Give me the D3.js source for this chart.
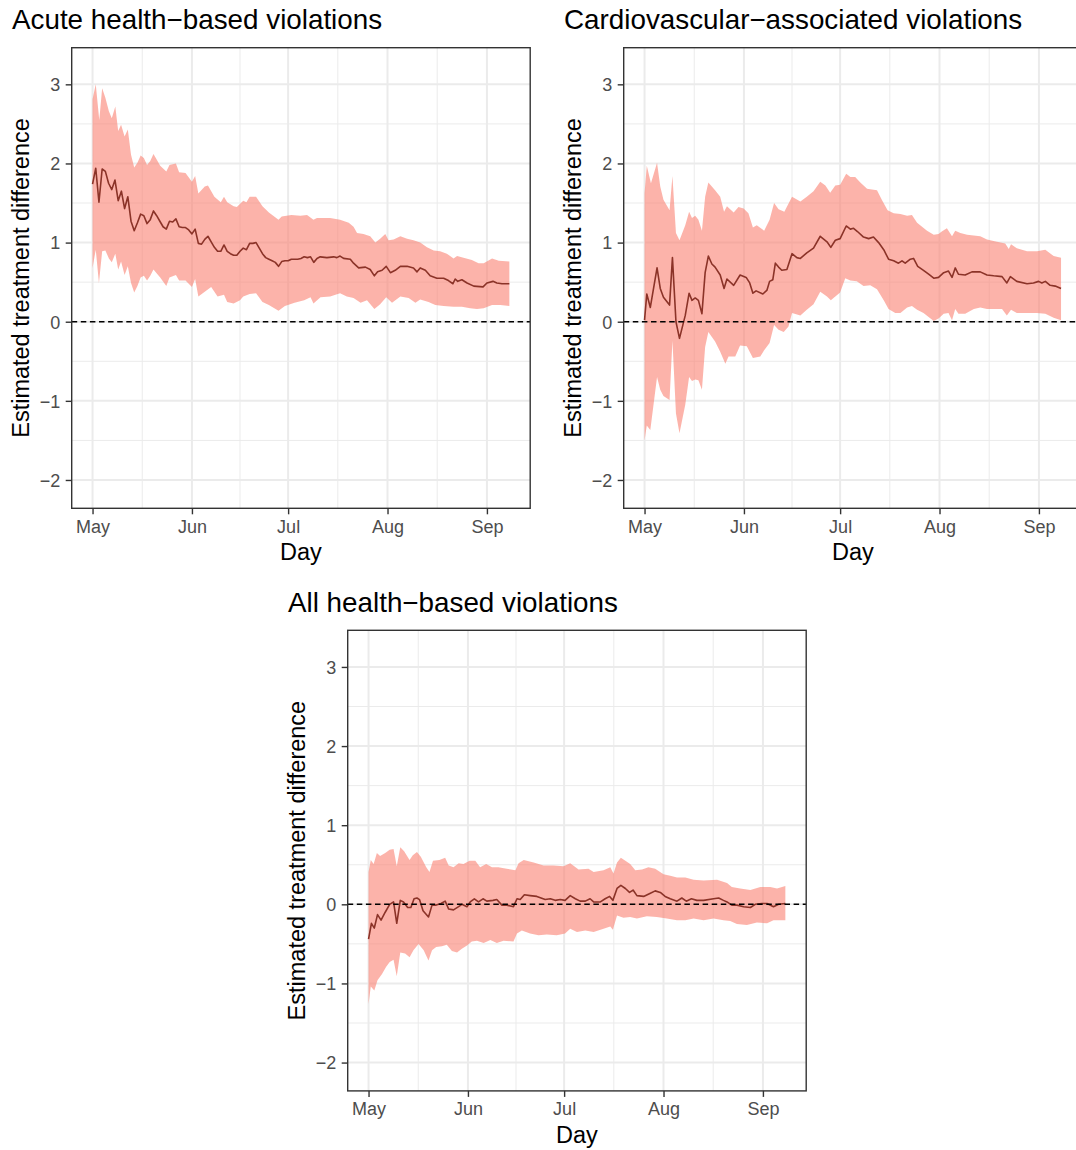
<!DOCTYPE html>
<html>
<head>
<meta charset="utf-8">
<script src="https://cdn.jsdelivr.net/npm/d3@7"></script>
<style>
  html, body { margin: 0; padding: 0; background: #fff; }
  svg { display: block; font-family: "Liberation Sans", Arial, Helvetica, sans-serif; }
</style>
</head>
<body>
<svg id="chart" width="1076" height="1150"></svg>
<script>
// ---------- DATA (day offsets from 1 May, value) ----------
const titles = ["Acute health\u2212based violations", "Cardiovascular\u2212associated violations", "All health\u2212based violations"];
const monthTicks = ["May", "Jun", "Jul", "Aug", "Sep"];
const yTicks = [-2, -1, 0, 1, 2, 3];

const acuteEst = [[0,1.74],[1,1.94],[2,1.51],[3,1.93],[4,1.90],[5,1.75],[6,1.67],[7,1.79],[8,1.53],[9,1.65],[10,1.43],[11,1.58],[12,1.27],[13,1.15],[14,1.25],[15,1.36],[16,1.34],[17,1.24],[18,1.29],[19,1.40],[20,1.34],[21,1.27],[22,1.20],[23,1.17],[24,1.27],[25,1.26],[26,1.30],[27,1.20],[28,1.19],[29,1.19],[30,1.16],[31,1.11],[32,1.17],[33,0.99],[34,0.98],[35,1.04],[36,1.08],[37,1.01],[38,0.94],[39,0.89],[40,0.89],[41,0.97],[42,0.89],[43,0.86],[44,0.84],[45,0.84],[46,0.89],[47,0.93],[48,0.91],[49,0.99],[50,0.99],[51,1.00],[52,0.93],[53,0.86],[54,0.81],[55,0.79],[56,0.77],[57,0.75],[58,0.70],[59,0.76],[60,0.77],[61,0.77],[62,0.79],[63,0.79],[64,0.79],[65,0.80],[66,0.82],[67,0.81],[68,0.82],[69,0.75],[70,0.80],[71,0.82],[73.1,0.81],[75.2,0.82],[76.2,0.81],[77.2,0.83],[78.3,0.80],[80.4,0.79],[81.4,0.74],[83.0,0.68],[85.1,0.69],[86.6,0.66],[87.9,0.58],[88.9,0.63],[90.3,0.65],[91.6,0.70],[92.9,0.62],[94.4,0.65],[96.0,0.70],[98.1,0.70],[100.1,0.68],[101.2,0.63],[102.2,0.68],[103.8,0.65],[105.3,0.58],[107.4,0.55],[109.5,0.55],[111.0,0.52],[112.4,0.48],[113.1,0.54],[113.9,0.51],[115.2,0.53],[116.8,0.49],[118.9,0.45],[121.8,0.44],[123.0,0.49],[124.9,0.51],[126.1,0.49],[127.7,0.48],[130,0.48]];
const acuteUpper = [[0,2.81],[1,3.00],[2.1,2.55],[3,2.95],[4,2.83],[5.1,2.66],[6,2.57],[7.1,2.72],[8,2.41],[8.9,2.49],[10,2.34],[11,2.43],[12,2.11],[13,1.95],[14,2.01],[15,2.10],[16,2.07],[17,1.98],[18,2.03],[19,2.12],[20,2.05],[21.1,1.97],[23,1.90],[24,1.98],[26,2.00],[27,1.89],[29,1.88],[31,1.77],[32,1.84],[33,1.62],[35,1.71],[36,1.72],[38,1.58],[40,1.51],[41,1.58],[42,1.51],[44,1.46],[45,1.45],[47,1.53],[48,1.51],[49,1.58],[51,1.58],[53,1.46],[55,1.38],[58,1.29],[59,1.33],[62,1.35],[64.8,1.34],[66.9,1.35],[68.9,1.29],[70,1.31],[74.1,1.31],[77.2,1.29],[79.9,1.25],[81.4,1.20],[82.5,1.12],[84.5,1.11],[86.6,1.08],[88.2,1.00],[89.7,1.05],[91.3,1.11],[92.3,1.03],[93.9,1.04],[96,1.08],[98.1,1.05],[100.1,1.03],[102.2,1.00],[104.3,0.94],[106.4,0.90],[108.4,0.89],[110.5,0.86],[112.6,0.80],[113.7,0.83],[115.7,0.81],[118.3,0.78],[120.4,0.74],[122,0.74],[124.6,0.80],[126.7,0.77],[130,0.76]];
const acuteLower = [[0,0.68],[1,0.91],[2,0.49],[3,0.89],[4,0.90],[5.1,0.80],[6,0.75],[7.1,0.86],[8,0.66],[8.9,0.76],[10,0.59],[11,0.70],[12,0.49],[13,0.37],[14,0.45],[15,0.56],[16,0.58],[17,0.52],[18,0.58],[19,0.66],[21.1,0.56],[23,0.45],[24,0.56],[26,0.59],[27,0.52],[29,0.52],[31,0.44],[32,0.54],[33,0.32],[35,0.38],[37,0.44],[39,0.32],[41,0.34],[42,0.25],[44,0.23],[46,0.27],[47,0.32],[49,0.35],[51,0.36],[53,0.25],[55,0.21],[58,0.14],[60,0.20],[63,0.24],[66,0.27],[68,0.31],[68.9,0.23],[71.1,0.31],[74.1,0.32],[77.2,0.36],[79.3,0.32],[81.4,0.30],[83.6,0.24],[85.6,0.27],[87.9,0.16],[89.7,0.22],[91.6,0.31],[93.4,0.24],[96,0.32],[98.6,0.30],[100.7,0.24],[102.2,0.28],[104.8,0.25],[106.9,0.21],[109.5,0.20],[112.6,0.19],[115.2,0.19],[117.8,0.17],[119.9,0.16],[122,0.17],[124.6,0.21],[127.2,0.21],[130,0.20]];

const cardioEst = [[0,0.02],[0.7,0.35],[1.8,0.18],[3.9,0.68],[4.9,0.42],[5.9,0.31],[7.8,0.21],[8.7,0.81],[9.8,0.00],[10.9,-0.21],[12.7,0.08],[13.9,0.36],[14.8,0.27],[15.8,0.30],[16.8,0.27],[17.9,0.10],[18.9,0.62],[19.9,0.83],[21,0.73],[22,0.69],[23.6,0.59],[24.8,0.42],[25.7,0.54],[27.8,0.46],[29.8,0.59],[31.7,0.56],[32.8,0.49],[33.8,0.36],[34.8,0.39],[36.9,0.35],[38.2,0.40],[39,0.51],[40,0.53],[40.8,0.74],[41.8,0.69],[42.8,0.65],[44.4,0.66],[46,0.86],[47.5,0.81],[48.6,0.80],[50.6,0.87],[52.7,0.93],[54.8,1.08],[56.9,1.01],[58.1,0.94],[59.5,1.03],[61,1.05],[62.9,1.21],[64.2,1.17],[65.2,1.18],[66.4,1.14],[68.3,1.07],[69.9,1.05],[71.4,1.07],[73,1.00],[74.6,0.91],[76.1,0.79],[77.7,0.77],[79.2,0.74],[80.3,0.77],[81.3,0.74],[82.9,0.79],[83.9,0.80],[85.2,0.70],[87,0.65],[88.6,0.60],[90.2,0.55],[91.7,0.56],[93.3,0.62],[94.8,0.64],[95.9,0.56],[96.9,0.68],[97.9,0.60],[100,0.59],[102.1,0.63],[104.7,0.63],[106.8,0.59],[108.9,0.58],[111.5,0.57],[113,0.49],[114.1,0.57],[116.1,0.51],[119.3,0.48],[121.3,0.49],[122.9,0.51],[123.9,0.49],[125,0.51],[126.5,0.46],[128.1,0.45],[129.9,0.42]];
const cardioUpper = [[0,1.62],[0.7,1.97],[2,1.75],[3.9,2.01],[4.9,1.71],[5.9,1.54],[7.8,1.41],[8.7,1.84],[9.8,1.12],[10.9,1.03],[12.7,1.22],[13.9,1.39],[14.8,1.31],[15.8,1.34],[16.8,1.29],[17.9,1.15],[18.9,1.58],[19.9,1.76],[22,1.66],[23.6,1.58],[24.8,1.39],[25.7,1.46],[27.8,1.38],[29.3,1.45],[30.9,1.43],[32.4,1.37],[33.8,1.19],[35,1.22],[37.3,1.15],[39,1.29],[40.4,1.50],[41.8,1.42],[43.6,1.39],[46,1.58],[48.6,1.52],[50.6,1.58],[52.7,1.65],[54.8,1.77],[56.4,1.72],[57.9,1.63],[59.5,1.72],[61,1.73],[62.9,1.87],[64.2,1.83],[65.7,1.83],[67.3,1.76],[69.4,1.68],[70.9,1.67],[72.5,1.66],[74,1.54],[75.8,1.41],[77.7,1.37],[79.8,1.36],[81.9,1.34],[83.4,1.35],[85,1.25],[88.1,1.15],[90.2,1.10],[91.7,1.11],[92.7,1.14],[94.3,1.18],[95.9,1.08],[96.9,1.15],[98.5,1.12],[100.6,1.10],[104.7,1.08],[106.8,1.04],[109.9,1.01],[112.5,0.99],[113.6,0.92],[114.3,0.98],[116.1,0.93],[119.3,0.89],[122.4,0.89],[125,0.91],[127.6,0.83],[129.9,0.81]];
const cardioLower = [[0,-1.50],[0.7,-1.31],[1.8,-1.37],[3.9,-0.70],[4.9,-0.86],[5.9,-0.94],[7.8,-0.99],[8.7,-0.24],[9.8,-1.16],[10.9,-1.41],[12.7,-1.05],[13.9,-0.70],[14.8,-0.75],[15.8,-0.73],[16.8,-0.74],[17.9,-0.86],[18.9,-0.32],[19.9,-0.13],[22,-0.25],[23.6,-0.38],[25.2,-0.53],[26.2,-0.44],[28.3,-0.44],[29.8,-0.30],[31.9,-0.31],[33.8,-0.46],[36.1,-0.44],[37.3,-0.36],[39,-0.27],[40.4,-0.04],[41.8,-0.10],[43.4,-0.13],[44.9,-0.06],[46,0.11],[48.6,0.08],[50.6,0.15],[52.7,0.22],[54.8,0.38],[56.9,0.32],[58.1,0.27],[59.5,0.32],[61,0.37],[62.6,0.55],[64.2,0.52],[66.2,0.51],[68.3,0.45],[70.4,0.46],[72.5,0.41],[74.6,0.27],[76.1,0.16],[78.2,0.11],[79.8,0.11],[81.9,0.18],[83.4,0.20],[85,0.15],[87,0.11],[88.6,0.06],[90.2,0.01],[91.7,0.04],[93.3,0.10],[94.8,0.11],[95.9,0.02],[96.9,0.16],[97.9,0.10],[100,0.10],[102.7,0.16],[104.7,0.18],[106.8,0.16],[108.9,0.16],[111.5,0.16],[113,0.08],[114.3,0.15],[116.1,0.11],[119.3,0.11],[122.4,0.11],[125,0.10],[127.6,0.05],[129.9,0.02]];

const allEst = [[0,-0.44],[0.9,-0.24],[1.8,-0.30],[2.8,-0.13],[3.9,-0.20],[5.2,-0.10],[6.6,0.00],[7.8,0.03],[8.8,-0.24],[9.9,0.05],[10.9,0.03],[12.2,-0.04],[13.2,-0.04],[14.2,0.07],[15.1,0.08],[15.9,0.06],[17,-0.08],[18.7,-0.16],[19.8,-0.01],[21.1,-0.01],[22.6,0.01],[23.9,0.04],[25,-0.06],[26.5,-0.07],[28.1,-0.03],[29.1,0.00],[30.7,-0.03],[31.7,0.03],[33,0.07],[34.3,0.03],[35.7,0.07],[36.9,0.04],[38.8,0.05],[40,0.06],[41.6,-0.01],[43.1,-0.01],[45.2,-0.03],[46.3,0.07],[47.3,0.06],[48.6,0.12],[50.4,0.11],[52.5,0.10],[53.8,0.08],[55.1,0.06],[56.7,0.07],[58.2,0.05],[59.8,0.06],[61.3,0.05],[62.9,0.11],[64.5,0.07],[66,0.04],[67.6,0.04],[69.1,0.07],[70.2,0.03],[72.3,0.03],[73.8,0.07],[75.2,0.10],[76.2,0.05],[77.5,0.20],[78.7,0.24],[80.1,0.20],[81.4,0.15],[82.5,0.18],[83.7,0.11],[85.8,0.10],[87.9,0.14],[89.4,0.17],[91,0.15],[92.5,0.10],[94.1,0.07],[96.2,0.04],[97.7,0.08],[99.1,0.04],[100.7,0.07],[102.4,0.05],[104.5,0.05],[107.6,0.07],[109.2,0.08],[110.7,0.05],[111.8,0.03],[113.3,-0.01],[114.9,-0.01],[117,-0.03],[119.1,-0.04],[120.6,0.00],[122.7,0.01],[124.3,0.01],[126.3,-0.03],[127.9,0.00],[130,0.01]];
const allUpper = [[0,0.41],[0.7,0.56],[1.6,0.51],[2.6,0.65],[3.6,0.61],[5.2,0.65],[6.6,0.69],[7.8,0.70],[8.8,0.48],[9.9,0.72],[11.1,0.67],[12.8,0.56],[13.8,0.62],[15.1,0.66],[16.3,0.60],[18,0.47],[19,0.41],[20.1,0.55],[22.1,0.56],[23.9,0.59],[25,0.49],[26.5,0.47],[28.1,0.52],[29.6,0.51],[31.5,0.55],[33.3,0.55],[34.8,0.47],[36.7,0.51],[38.5,0.47],[40.5,0.47],[43.1,0.45],[45.8,0.43],[46.8,0.52],[48.4,0.56],[51.5,0.53],[54.6,0.49],[57.7,0.49],[60.8,0.48],[62.9,0.52],[65.5,0.44],[68.6,0.45],[70.2,0.41],[73.3,0.43],[75.4,0.47],[76.4,0.39],[77.5,0.53],[78.7,0.59],[80.1,0.55],[81.6,0.51],[83.2,0.43],[85.3,0.44],[87.3,0.47],[89.4,0.45],[92,0.38],[94.1,0.36],[96.2,0.34],[98.8,0.34],[101.4,0.31],[104.5,0.30],[108.7,0.31],[111.8,0.27],[113.3,0.22],[115.9,0.20],[119.1,0.18],[122.2,0.22],[125.3,0.22],[127.4,0.20],[130,0.23]];
const allLower = [[0,-1.26],[0.7,-1.04],[1.8,-1.09],[2.8,-0.96],[4.2,-0.88],[5.5,-0.79],[6.6,-0.73],[7.8,-0.70],[8.8,-0.91],[9.9,-0.61],[11.4,-0.62],[12.8,-0.67],[14,-0.58],[15.6,-0.50],[17.2,-0.58],[18.7,-0.71],[19.8,-0.58],[21.1,-0.54],[22.9,-0.53],[24.4,-0.51],[26,-0.59],[27.6,-0.61],[29.1,-0.56],[30.7,-0.52],[32.2,-0.47],[33.8,-0.46],[35.9,-0.49],[38,-0.45],[40,-0.49],[42.1,-0.46],[45.2,-0.47],[46.3,-0.37],[47.8,-0.33],[50.4,-0.37],[53,-0.39],[55.6,-0.38],[58.7,-0.39],[61.3,-0.37],[62.9,-0.31],[65,-0.35],[67.6,-0.33],[70.2,-0.35],[73.3,-0.31],[75.4,-0.28],[76.2,-0.32],[77.5,-0.14],[79.5,-0.17],[81.6,-0.16],[83.7,-0.18],[86.8,-0.15],[89.9,-0.16],[93,-0.18],[96.2,-0.20],[98.8,-0.20],[101.4,-0.18],[104.5,-0.20],[107.6,-0.18],[110.7,-0.20],[112.8,-0.21],[114.9,-0.25],[118,-0.26],[121.1,-0.23],[124.3,-0.24],[126.3,-0.20],[128.4,-0.20],[130,-0.20]];

// ---------- LAYOUT ----------
const PW = 458.5, PH = 460.6;
const origins = [[71.7, 47.7], [623.7, 47.7], [347.7, 630.3]];
const series = [
  {est: acuteEst, up: acuteUpper, lo: acuteLower},
  {est: cardioEst, up: cardioUpper, lo: cardioLower},
  {est: allEst, up: allUpper, lo: allLower}
];
const BASE = Date.UTC(2019, 4, 1);
const DAY = 86400000;
const toDate = d => new Date(BASE + d * DAY);

const svg = d3.select("#chart");
const FONT_TICK = 18, FONT_AXIS = 23.5, FONT_TITLE = 27.8;

series.forEach((s, i) => {
  const [L, T] = origins[i];
  const x = d3.scaleUtc().domain([toDate(-6.5), toDate(136.5)]).range([L, L + PW]);
  const y = d3.scaleLinear().domain([-2.358, 3.463]).range([T + PH, T]);
  const g = svg.append("g");

  const cid = "clip" + i;
  g.append("clipPath").attr("id", cid).append("rect")
    .attr("x", L).attr("y", T).attr("width", PW).attr("height", PH);

  g.append("rect").attr("x", L).attr("y", T).attr("width", PW).attr("height", PH).attr("fill", "#fff");

  const grid = g.append("g").attr("clip-path", `url(#${cid})`);
  const monthDates = monthTicks.map((m, k) => new Date(Date.UTC(2019, 4 + k, 1)));
  const minorX = d3.pairs(monthDates).map(([a, b]) => new Date((+a + +b) / 2));
  const minorY = d3.pairs(yTicks).map(([a, b]) => (a + b) / 2);

  grid.selectAll(".mnx").data(minorX).join("line")
    .attr("x1", d => x(d)).attr("x2", d => x(d)).attr("y1", T).attr("y2", T + PH)
    .attr("stroke", "#EBEBEB").attr("stroke-width", 1);
  grid.selectAll(".mny").data(minorY).join("line")
    .attr("x1", L).attr("x2", L + PW).attr("y1", d => y(d)).attr("y2", d => y(d))
    .attr("stroke", "#EBEBEB").attr("stroke-width", 1);
  grid.selectAll(".mjx").data(monthDates).join("line")
    .attr("x1", d => x(d)).attr("x2", d => x(d)).attr("y1", T).attr("y2", T + PH)
    .attr("stroke", "#EBEBEB").attr("stroke-width", 2);
  grid.selectAll(".mjy").data(yTicks).join("line")
    .attr("x1", L).attr("x2", L + PW).attr("y1", d => y(d)).attr("y2", d => y(d))
    .attr("stroke", "#EBEBEB").attr("stroke-width", 2);

  const line = d3.line().x(d => x(toDate(d[0]))).y(d => y(d[1]));
  const plot = g.append("g").attr("clip-path", `url(#${cid})`);
  plot.append("path")
    .attr("d", line(s.up.concat(s.lo.slice().reverse())) + "Z")
    .attr("fill", "#FA8072").attr("fill-opacity", 0.6).attr("stroke", "none");
  plot.append("path")
    .attr("d", line(s.est))
    .attr("fill", "none").attr("stroke", "#8B3328").attr("stroke-width", 1.6)
    .attr("stroke-linejoin", "round");
  plot.append("line")
    .attr("x1", L).attr("x2", L + PW).attr("y1", y(0)).attr("y2", y(0))
    .attr("stroke", "#000").attr("stroke-width", 1.6).attr("stroke-dasharray", "5.5,3.6");

  g.append("rect").attr("x", L).attr("y", T).attr("width", PW).attr("height", PH)
    .attr("fill", "none").attr("stroke", "#333333").attr("stroke-width", 1.4);

  const yAxis = g.append("g").attr("transform", `translate(${L},0)`)
    .call(d3.axisLeft(y).tickValues(yTicks).tickSize(6).tickPadding(5.5).tickFormat(d => d < 0 ? "\u2212" + Math.abs(d) : d));
  const xAxis = g.append("g").attr("transform", `translate(0,${T + PH})`)
    .call(d3.axisBottom(x).tickValues(monthDates).tickSize(6).tickPadding(5.5).tickFormat((d, k) => monthTicks[k]));
  [yAxis, xAxis].forEach(a => {
    a.select(".domain").remove();
    a.selectAll(".tick line").attr("stroke", "#333333").attr("stroke-width", 1.4);
    a.selectAll(".tick text").attr("fill", "#4D4D4D").attr("font-size", FONT_TICK)
      .attr("font-family", "'Liberation Sans', Arial, Helvetica, sans-serif");
  });
  yAxis.selectAll(".tick text").attr("dy", "0.35em");

  g.append("text").attr("x", L - 59.7).attr("y", T - 18.4)
    .attr("font-size", FONT_TITLE).attr("fill", "#000").text(titles[i]);
  g.append("text").attr("x", L + PW / 2).attr("y", T + PH + 51.7)
    .attr("text-anchor", "middle").attr("font-size", FONT_AXIS).attr("fill", "#000").text("Day");
  g.append("text")
    .attr("transform", `translate(${L - 42.4},${T + PH / 2}) rotate(-90)`)
    .attr("text-anchor", "middle").attr("font-size", FONT_AXIS).attr("fill", "#000")
    .text("Estimated treatment difference");
});
</script>
</body>
</html>
